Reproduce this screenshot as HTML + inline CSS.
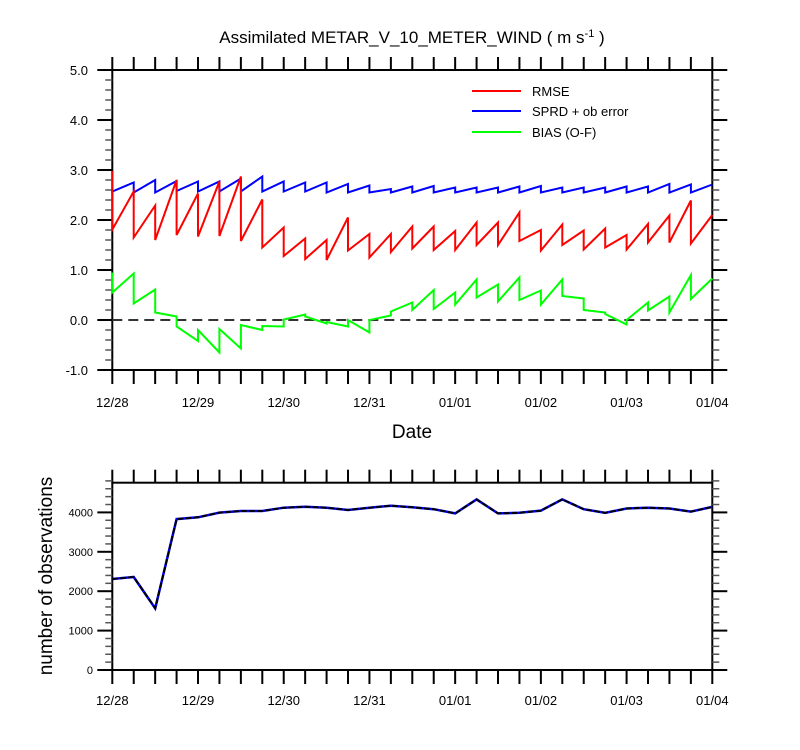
<!DOCTYPE html>
<html><head><meta charset="utf-8"><style>
body{margin:0;background:#fff}
svg{display:block;font-family:"Liberation Sans",Arial,sans-serif}
</style></head><body>
<svg id="c" width="800" height="750" viewBox="0 0 800 750">
<text x="412" y="43" text-anchor="middle" font-size="17">Assimilated METAR_V_10_METER_WIND ( m s<tspan dy="-6" font-size="11">-1</tspan><tspan dy="6"> )</tspan></text>
<text x="412" y="438" text-anchor="middle" font-size="19">Date</text>
<text transform="translate(52,576) rotate(-90)" text-anchor="middle" font-size="19">number of observations</text>
<g>
<line x1="472" y1="91" x2="521" y2="91" stroke="#ff0000" stroke-width="2"/><text x="532" y="96" font-size="13">RMSE</text>
<line x1="472" y1="111" x2="521" y2="111" stroke="#0000ff" stroke-width="2"/><text x="532" y="116" font-size="13">SPRD + ob error</text>
<line x1="472" y1="132" x2="521" y2="132" stroke="#00ff00" stroke-width="2"/><text x="532" y="137" font-size="13">BIAS (O-F)</text>
</g>
</svg>
<script>
const dateLabels=["12/28","12/29","12/30","12/31","01/01","01/02","01/03","01/04"];
const topTicks=["-1.0","0.0","1.0","2.0","3.0","4.0","5.0"];
const botTicks=["0","1000","2000","3000","4000"];
const rmsePrior=[2.98,2.57,2.29,2.8,2.53,2.77,2.87,2.41,1.85,1.63,1.6,2.05,1.72,1.72,1.87,1.87,1.78,1.95,1.95,2.15,1.8,1.91,1.79,1.83,1.7,1.92,2.09,2.39,2.1];
const rmsePost=[1.81,1.65,1.6,1.7,1.67,1.68,1.58,1.45,1.28,1.22,1.2,1.39,1.25,1.36,1.43,1.4,1.4,1.5,1.5,1.58,1.39,1.5,1.41,1.45,1.41,1.55,1.55,1.53,2.1];
const sprdPrior=[2.6,2.75,2.8,2.78,2.77,2.77,2.83,2.87,2.77,2.75,2.75,2.72,2.69,2.62,2.67,2.68,2.65,2.65,2.65,2.67,2.68,2.65,2.65,2.65,2.67,2.67,2.72,2.71,2.71];
const sprdPost=[2.57,2.55,2.55,2.58,2.57,2.57,2.57,2.57,2.57,2.57,2.55,2.55,2.55,2.55,2.55,2.55,2.55,2.55,2.55,2.55,2.55,2.55,2.55,2.55,2.55,2.55,2.55,2.55,2.71];
const biasPrior=[0.95,0.93,0.61,0.07,-0.42,-0.65,-0.57,-0.2,-0.13,0.11,-0.07,-0.13,-0.25,0.09,0.35,0.6,0.55,0.81,0.71,0.85,0.59,0.81,0.43,0.15,-0.09,0.35,0.47,0.9,0.83];
const biasPost=[0.55,0.33,0.15,-0.13,-0.2,-0.18,-0.1,-0.12,0.01,0.07,-0.04,0,0,0.17,0.2,0.22,0.31,0.45,0.37,0.4,0.31,0.48,0.2,0.12,0,0.19,0.15,0.42,0.83];
const obsCount=[2310,2360,1565,3830,3875,3995,4035,4035,4120,4145,4120,4060,4120,4170,4130,4080,3975,4330,3975,3990,4045,4330,4080,3990,4100,4120,4100,4020,4140];

const svg=document.getElementById('c');
const NS='http://www.w3.org/2000/svg';
function mk(tag,attrs,parent){const e=document.createElementNS(NS,tag);for(const k in attrs)e.setAttribute(k,attrs[k]);(parent||svg).appendChild(e);return e;}
const X0=112.3,X1=712.3;
const xT=i=>X0+(X1-X0)*i/28;
const xD=d=>X0+(X1-X0)*d/7;
const yTop=v=>320-v*50;
const yBot=v=>670-v*0.0394;

function frame(top,bot,name){
  const g=mk('g',{});
  
  
  mk('rect',{x:X0,y:top,width:X1-X0,height:bot-top,fill:'none',stroke:'#000','stroke-width':2},g);
  for(let i=0;i<=28;i++){const x=xT(i);
    mk('line',{x1:x,y1:top,x2:x,y2:top-13,stroke:'#000','stroke-width':2},g);
    mk('line',{x1:x,y1:bot,x2:x,y2:bot+14,stroke:'#000','stroke-width':2},g);}
  return g;
}
// top chart
const g1=frame(70,370,'top-plot-frame');
for(let k=0;k<=30;k++){const v=-1+k*0.2,y=yTop(v),maj=k%5==0;
  mk('line',{x1:X0,y1:y,x2:X0-(maj?15:7),y2:y,stroke:maj?'#000':'#555','stroke-width':maj?2:1.5},g1);
  mk('line',{x1:X1,y1:y,x2:X1+(maj?15:7),y2:y,stroke:maj?'#000':'#555','stroke-width':maj?2:1.5},g1);}
topTicks.forEach((t,i)=>{const e=mk('text',{x:88,y:yTop(parseFloat(t))+5,'text-anchor':'end','font-size':13},g1);e.textContent=t;
  
  });
dateLabels.forEach((t,i)=>{const e=mk('text',{x:xD(i),y:407,'text-anchor':'middle','font-size':13},g1);e.textContent=t;
  
  });
const zl=mk('line',{x1:X0,y1:yTop(0),x2:X1,y2:yTop(0),stroke:'#333','stroke-width':2,'stroke-dasharray':'10 6'});


function saw(pr,po,col,name){let d='';
  for(let i=0;i<pr.length;i++){const x=xT(i).toFixed(1);d+=(i?'L':'M')+x+','+yTop(pr[i]).toFixed(1)+'L'+x+','+yTop(po[i]).toFixed(1);}
  const p=mk('path',{d:d,fill:'none',stroke:col,'stroke-width':2,'stroke-linejoin':'miter'});
  
  }
saw(sprdPrior,sprdPost,'#0000ff','sprd-line');
saw(rmsePrior,rmsePost,'#ff0000','rmse-line');
saw(biasPrior,biasPost,'#00ff00','bias-line');
// bottom chart
const g2=frame(482.7,670,'bottom-plot-frame');
for(let k=0;k<=24;k++){const v=k*200,y=yBot(v),maj=k%5==0;
  mk('line',{x1:X0,y1:y,x2:X0-(maj?15:7),y2:y,stroke:maj?'#000':'#555','stroke-width':maj?2:1.5},g2);
  mk('line',{x1:X1,y1:y,x2:X1+(maj?15:7),y2:y,stroke:maj?'#000':'#555','stroke-width':maj?2:1.5},g2);}
botTicks.forEach(t=>{const e=mk('text',{x:93,y:yBot(+t)+4,'text-anchor':'end','font-size':11},g2);e.textContent=t;
  
  });
dateLabels.forEach((t,i)=>{const e=mk('text',{x:xD(i),y:705,'text-anchor':'middle','font-size':13},g2);e.textContent=t;
  
  });
const od=obsCount.map((v,i)=>(i?'L':'M')+xT(i).toFixed(1)+','+yBot(v).toFixed(1)).join('');
const ob=mk('path',{d:od,fill:'none',stroke:'#0000ff','stroke-width':2.5});


const ok=mk('path',{d:od,fill:'none',stroke:'#000','stroke-width':2,'stroke-dasharray':'6 2'});


</script>
</body></html>
